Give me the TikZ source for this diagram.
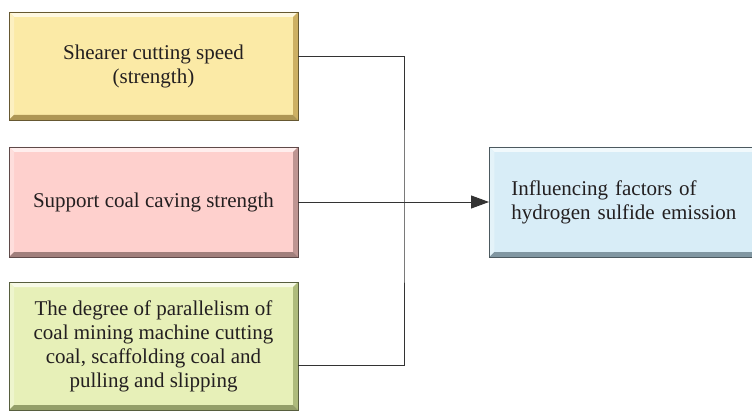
\documentclass[tikz,border=0pt]{standalone}
\usepackage{fontspec}
\setmainfont{Liberation Serif}
\usetikzlibrary{arrows.meta}
\definecolor{yelF}{HTML}{FBEAA6}
\definecolor{yelD}{HTML}{CDB063}
\definecolor{pinF}{HTML}{FED0CD}
\definecolor{pinD}{HTML}{BE9592}
\definecolor{grnF}{HTML}{E7F0B8}
\definecolor{grnD}{HTML}{AEBB7C}
\definecolor{bluF}{HTML}{D8EDF7}
\definecolor{bluD}{HTML}{98B2BF}
\definecolor{txt}{HTML}{231F20}
\definecolor{lin}{HTML}{333333}
\tikzset{
  bevbox/.style 2 args={rectangle, fill=#1, draw=#2!50!black, line width=0.6pt,
    text=txt, font=\fontsize{21}{24}\selectfont,
    path picture={
      \fill[#1!35!white] (path picture bounding box.north west) -- (path picture bounding box.north east)
        -- ([shift={(-5pt,-5pt)}]path picture bounding box.north east) -- ([shift={(5pt,-5pt)}]path picture bounding box.north west) -- cycle;
      \fill[#1!70!white] (path picture bounding box.north west) -- ([shift={(5pt,-5pt)}]path picture bounding box.north west)
        -- ([shift={(5pt,5pt)}]path picture bounding box.south west) -- (path picture bounding box.south west) -- cycle;
      \fill[#2] (path picture bounding box.north east) -- ([shift={(-5pt,-5pt)}]path picture bounding box.north east)
        -- ([shift={(-5pt,5pt)}]path picture bounding box.south east) -- (path picture bounding box.south east) -- cycle;
      \fill[#2!85!black] (path picture bounding box.south west) -- ([shift={(5pt,5pt)}]path picture bounding box.south west)
        -- ([shift={(-5pt,5pt)}]path picture bounding box.south east) -- (path picture bounding box.south east) -- cycle;
    }},
  srcbox/.style={minimum width=289pt, align=center, inner sep=0pt},
  conn/.style={draw=lin, line width=0.9pt},
}
\begin{document}
\begin{tikzpicture}[x=1pt,y=1pt]
\useasboundingbox (0,0) rectangle (752,413);
\fill[white] (0,0) rectangle (752,413);
\node[bevbox={yelF}{yelD}, srcbox, minimum height=108pt] (ye) at (153.5,347) {Shearer cutting speed\\(strength)};
\node[bevbox={pinF}{pinD}, srcbox, minimum height=110pt] (pk) at (153.5,211) {Support coal caving strength};
\node[bevbox={grnF}{grnD}, srcbox, minimum height=128pt] (gr) at (153.5,67) {The degree of parallelism of\\coal mining machine cutting\\coal, scaffolding coal and\\pulling and slipping};
\node[bevbox={bluF}{bluD}, anchor=west, align=left, text width=250pt, inner xsep=22pt, minimum height=110pt] (bl) at (489,211) {Influencing factors of\\hydrogen sulfide emission};
\coordinate (j) at (404,211);
\draw[conn] ([yshift=10pt]ye.east) -| (j) |- ([yshift=-19pt]gr.east);
\draw[conn, -{Triangle[length=18pt,width=13pt]}] (pk.east) -- (bl.west);
\end{tikzpicture}
\end{document}
